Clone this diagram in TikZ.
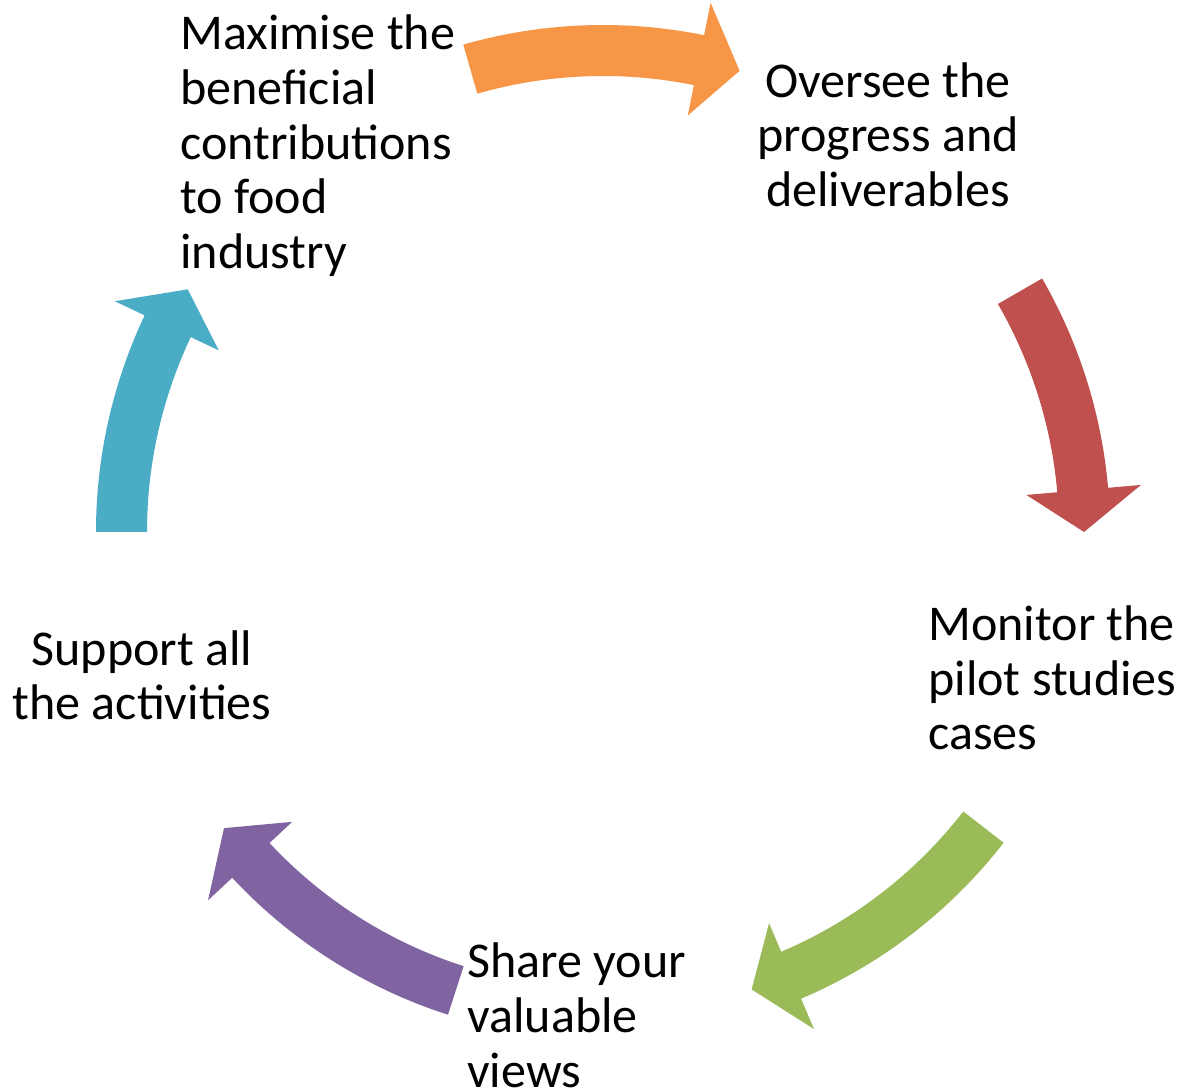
\documentclass[tikz,border=0pt]{standalone}
\usepackage{fontspec}
\setmainfont{Carlito}
\definecolor{cycorange}{RGB}{247, 150, 70}
\definecolor{cycred}{RGB}{192, 80, 77}
\definecolor{cycgreen}{RGB}{155, 187, 89}
\definecolor{cycpurple}{RGB}{128, 100, 162}
\definecolor{cycblue}{RGB}{75, 172, 198}
\usetikzlibrary{positioning}

\begin{document}
\begin{tikzpicture}[
  x=0.02cm, y=0.02cm,
  label text/.style={inner sep=0pt, font=\fontsize{28.5}{31.3}\selectfont},
  left text/.style={label text, anchor=base west, align=left},
  mid text/.style={label text, anchor=base, align=center}
]
  \useasboundingbox (0,0) rectangle (1182,1091);
  \coordinate (hub) at (603,559);

  % curved arrows round the hub: tail angle / tip angle / colour
  \begin{scope}[shift={(hub)}]
    \foreach \a/\b/\col in {106/73.5/cycorange, 30/0/cycred, -37.8/-72/cycgreen,
                            -107.8/-142/cycpurple, 180/149.7/cycblue}
      \fill[\col] (\a:507) arc[start angle=\a, end angle=\b+5, radius=507]
        -- (\b+5:540) -- (\b:481) -- (\b+5:425) -- (\b+5:456)
        arc[start angle=\b+5, end angle=\a, radius=456] -- cycle;
  \end{scope}

  % text blocks, placed by the baseline of their last line
  \node[left text] (maximise) at (180,822) {Maximise the\\beneficial\\contributions\\to food\\industry};
  \node[mid text] (oversee) at (888,884) {Oversee the\\progress and\\deliverables};
  \node[left text] (monitor) at (928,341) {Monitor the\\pilot studies\\cases};
  \node[left text] (share) at (467,4) {Share your\\valuable\\views};
  \node[mid text] (support) at (142,371) {Support all\\the activities};
\end{tikzpicture}
\end{document}
